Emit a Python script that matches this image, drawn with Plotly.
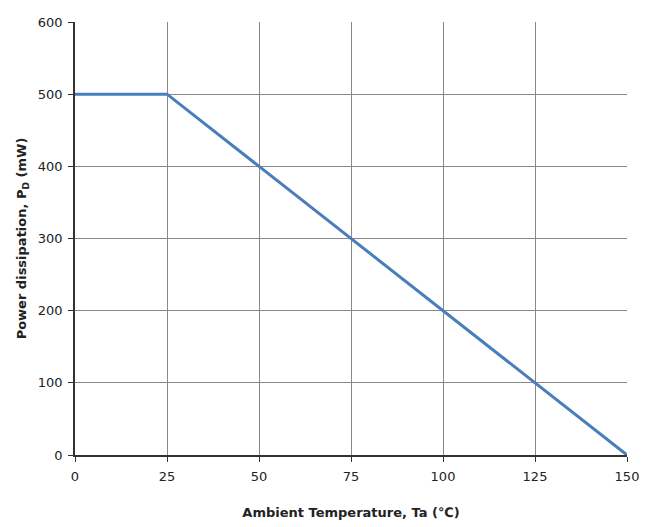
import plotly.graph_objects as go

temperature = [0, 25, 150]
power_mw = [500, 500, 0]
x_ticks = [0, 25, 50, 75, 100, 125, 150]
y_ticks = [0, 100, 200, 300, 400, 500, 600]

fig = go.Figure()
fig.add_trace(go.Scatter(x=temperature, y=power_mw, mode="lines",
                         line=dict(color="#4a7ebb", width=3), showlegend=False))

font_family = "DejaVu Sans, Verdana, sans-serif"
fig.update_layout(
    width=646, height=519,
    margin=dict(l=67, r=27, t=14, b=72),
    paper_bgcolor="white", plot_bgcolor="white",
    font=dict(family=font_family, size=13, color="#222"),
    xaxis=dict(range=[0, 150], tickvals=x_ticks, showgrid=True, gridcolor="#888",
               gridwidth=1, showline=True, linecolor="#333", linewidth=1.5,
               ticks="outside", ticklen=5, tickcolor="#333", zeroline=False,
               ticklabelstandoff=4, automargin=False,
               title=dict(text="<b>Ambient Temperature, Ta (℃)</b>", standoff=25,
                          font=dict(size=13))),
    yaxis=dict(range=[0, 600], tickvals=y_ticks, showgrid=True, gridcolor="#888",
               gridwidth=1, showline=True, linecolor="#333", linewidth=1.5,
               ticks="outside", ticklen=5, tickcolor="#333", zeroline=False,
               ticklabelstandoff=3, automargin=False,
               title=dict(text="<b>Power dissipation, P<sub>D</sub> (mW)</b>", standoff=8,
                          font=dict(size=13))),
)
fig.write_html("out.html")
